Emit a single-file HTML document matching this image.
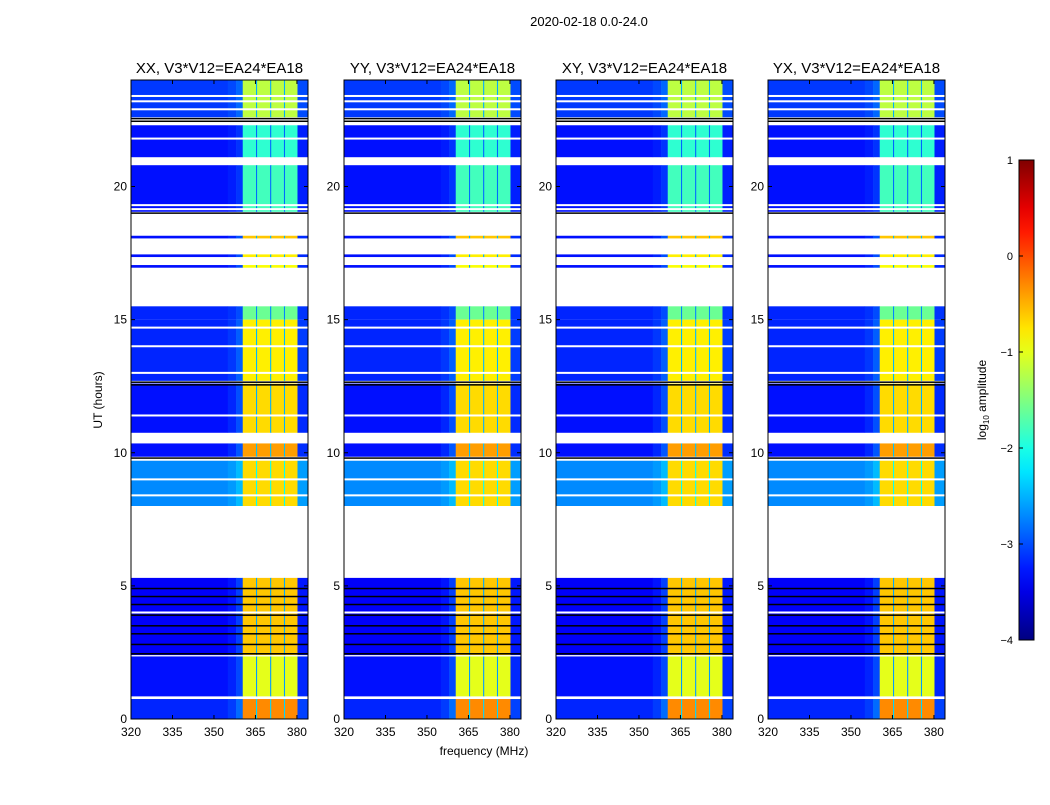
<!DOCTYPE html>
<html><head><meta charset="utf-8"><style>
body{margin:0;background:#fff;font-family:"Liberation Sans",sans-serif;}
svg text{font-family:"Liberation Sans","DejaVu Sans",sans-serif;}
</style></head><body>
<svg id="fig" width="1050" height="800" viewBox="0 0 1050 800">
<rect width="1050" height="800" fill="#fff"/>
<text x="589" y="26" font-size="13" text-anchor="middle">2020-02-18 0.0-24.0</text>
<text x="484" y="755" font-size="12" text-anchor="middle">frequency (MHz)</text>
<text transform="translate(102,400) rotate(-90)" font-size="12" text-anchor="middle">UT (hours)</text>
<text transform="translate(986,400) rotate(-90)" font-size="12" text-anchor="middle">log<tspan font-size="8" dy="3">10</tspan><tspan dy="-3"> amplitude</tspan></text>
</svg>
<script>
// ---- data ----
const panelTitles = ["XX, V3*V12=EA24*EA18","YY, V3*V12=EA24*EA18","XY, V3*V12=EA24*EA18","YX, V3*V12=EA24*EA18"];
const xTicks = [320,335,350,365,380];
const yTicks = [0,5,10,15,20];
const cbTicks = [1,0,-1,-2,-3,-4];
const chanStart = [320,355,358,360.4,365.2,365.6,370.3,370.7,375.3,375.7,380.2];
const chanEnd   = [355,358,360.4,365.2,365.6,370.3,370.7,375.3,375.7,380.2,384];
const chanWeight= [0,0.04,0.12,1,0.3,1,0.3,1,0.3,1,0.05];
const segStart = [22.6,21.1,19.05,18.05,17.35,16.95,15.0,12.7,10.75,9.85,8.0,2.4,0.85,0.0];
const segEnd   = [24.0,22.3,20.8,18.15,17.45,17.05,15.5,15.0,12.6,10.35,9.7,5.3,2.35,0.75];
const segBase  = [-3.1,-3.3,-3.3,-3.3,-3.3,-3.3,-3.2,-3.2,-3.3,-3.3,-2.7,-3.4,-3.3,-3.2];
const segBand  = [-1.2,-1.9,-1.8,-0.6,-0.8,-0.9,-1.6,-0.8,-0.7,-0.4,-0.7,-0.6,-1.0,-0.3];
const blackLines = [22.45,22.55,19.0,12.65,12.55,9.8,4.9,4.6,4.3,3.9,3.5,3.2,2.8,2.45];
const whiteLines = [23.4,23.2,22.9,21.8,19.3,19.15,14.7,14.0,13.0,11.4,9.0,8.4,4.0];

const panelX = [131,344,556,768];
const panelW = 177, plotTop = 80, plotBottom = 719;
const fMin = 320, fMax = 384, tMin = 0, tMax = 24;
const NS = "http://www.w3.org/2000/svg";
const svgEl = document.getElementById('fig');
function jet(v){
  let t = Math.max(0,Math.min(1,(v+4)/5));
  const r = Math.max(0,Math.min(1,1.5-Math.abs(4*t-3)));
  const g = Math.max(0,Math.min(1,1.5-Math.abs(4*t-2)));
  const b = Math.max(0,Math.min(1,1.5-Math.abs(4*t-1)));
  return `rgb(${Math.round(r*255)},${Math.round(g*255)},${Math.round(b*255)})`;
}
function mk(tag, attrs, parent){
  const e = document.createElementNS(NS, tag);
  for (const k in attrs) e.setAttribute(k, attrs[k]);
  (parent||svgEl).appendChild(e); return e;
}
const yScale = t => plotBottom - (t - tMin)/(tMax - tMin)*(plotBottom-plotTop);

panelX.forEach((px, p) => {
  const xScale = f => px + (f - fMin)/(fMax - fMin)*panelW;
  const g = mk('g', {});
  
  
  segStart.forEach((s, i) => {
    chanStart.forEach((c, j) => {
      const v = segBase[i] + (segBand[i]-segBase[i])*chanWeight[j];
      const r = mk('rect', {x: xScale(c), y: yScale(segEnd[i]), width: xScale(chanEnd[j])-xScale(c)+0.3,
        height: yScale(segStart[i])-yScale(segEnd[i]), fill: jet(v)}, g);
      
      
    });
  });
  whiteLines.forEach(t => {
    const r = mk('rect', {x: px, y: yScale(t)-1, width: panelW, height: 2, fill: '#fff'}, g);
    
    
  });
  blackLines.forEach(t => {
    const r = mk('rect', {x: px, y: yScale(t)-0.75, width: panelW, height: 1.5, fill: '#000'}, g);
    
    
  });
  const fr = mk('rect', {x: px, y: plotTop, width: panelW, height: plotBottom-plotTop, fill: 'none', stroke: '#000', 'stroke-width': 1});
  
  
  const tt = mk('text', {x: px+panelW/2, y: 73, 'font-size': 15, 'text-anchor': 'middle'});
  tt.textContent = panelTitles[p];
  
  
  xTicks.forEach(f => {
    const x = xScale(f);
    mk('line', {x1: x, x2: x, y1: plotBottom, y2: plotBottom-4, stroke: '#000'});
    mk('line', {x1: x, x2: x, y1: plotTop, y2: plotTop+4, stroke: '#000'});
    const l = mk('text', {x: x, y: plotBottom+17, 'font-size': 12, 'text-anchor': 'middle'});
    l.textContent = f;
    
    
  });
  yTicks.forEach(t => {
    const y = yScale(t);
    mk('line', {x1: px, x2: px+4, y1: y, y2: y, stroke: '#000'});
    mk('line', {x1: px+panelW, x2: px+panelW-4, y1: y, y2: y, stroke: '#000'});
    const l = mk('text', {x: px-4, y: y+4, 'font-size': 12, 'text-anchor': 'end'});
    l.textContent = t;
    
    
  });
});

const defs = mk('defs', {});
const grad = mk('linearGradient', {id: 'jetg', x1: 0, y1: 1, x2: 0, y2: 0}, defs);
for (let i = 0; i <= 20; i++) mk('stop', {offset: i/20, 'stop-color': jet(-4 + 5*i/20)}, grad);
const cbTop = 160, cbBot = 640;
const cb = mk('rect', {x: 1019, y: cbTop, width: 15, height: cbBot-cbTop, fill: 'url(#jetg)', stroke: '#000', 'stroke-width': 1});


cbTicks.forEach(v => {
  const y = cbBot - (v+4)/5*(cbBot-cbTop);
  mk('line', {x1: 1019, x2: 1023, y1: y, y2: y, stroke: '#000'});
  const l = mk('text', {x: 1013, y: y+4, 'font-size': 11, 'text-anchor': 'end'});
  l.textContent = v < 0 ? '\u2212' + Math.abs(v) : v;
  
  
});
</script>
</body></html>
